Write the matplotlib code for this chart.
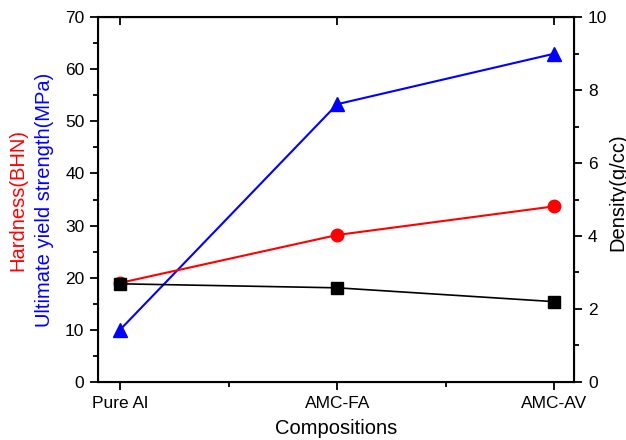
import numpy as np
import matplotlib.pyplot as plt
from matplotlib.ticker import MultipleLocator

plt.rcParams['font.family'] = ['Liberation Sans', 'DejaVu Sans']

# data
compositions = ["Pure Al", "AMC-FA", "AMC-AV"]
strength = [10.0, 53.3, 63.0]      # MPa, blue
hardness = [19.0, 28.2, 33.7]      # BHN, red
density = [2.69, 2.58, 2.2]        # g/cc, black, right axis

x = np.arange(len(compositions))

fig = plt.figure(figsize=(6.26, 4.4), dpi=100)
ax1 = fig.add_axes([0.157, 0.132, 0.76, 0.829])

ax1.plot(x, strength, 'b-', lw=1.5, marker='^', ms=10, zorder=3)
ax1.plot(x, hardness, 'r-', lw=1.5, marker='o', ms=9, zorder=3)
ax1.set_xlim(-0.1, 2.09)
ax1.set_ylim(0, 70)
ax1.set_xticks(x)
ax1.set_xticklabels(compositions)
ax1.xaxis.set_minor_locator(MultipleLocator(0.5))
ax1.yaxis.set_major_locator(MultipleLocator(10))
ax1.yaxis.set_minor_locator(MultipleLocator(5))
ax1.tick_params(axis='both', which='major', direction='out', length=6, width=1.3,
                labelsize=12.5, pad=4)
ax1.tick_params(axis='both', which='minor', direction='out', length=3.5, width=1.3)
ax1.set_xlabel("Compositions", fontsize=14.5, labelpad=6)
for s in ax1.spines.values():
    s.set_linewidth(1.5)

# two-colour left label
ax1.text(-0.168, 0.5, "Hardness(BHN)", color='red', rotation=90, fontsize=14.5,
         transform=ax1.transAxes, ha='center', va='center')
ax1.text(-0.112, 0.5, "Ultimate yield strength(MPa)", color='blue', rotation=90,
         fontsize=14.5, transform=ax1.transAxes, ha='center', va='center')

# top ticks at categories pointing inward
top = ax1.secondary_xaxis('top')
top.set_xticks(x)
top.set_xticklabels([])
top.tick_params(direction='in', length=6, width=1.3)

ax2 = ax1.twinx()
ax2.plot(x, density, 'k-', lw=1.2, marker='s', ms=9, zorder=3)
ax2.set_ylim(0, 10)
ax2.yaxis.set_major_locator(MultipleLocator(2))
ax2.yaxis.set_minor_locator(MultipleLocator(1))
ax2.tick_params(axis='y', which='major', direction='out', length=6, width=1.3,
                labelsize=12.5, pad=4)
ax2.tick_params(axis='y', which='minor', direction='out', length=3.5, width=1.3)
ax2.set_ylabel("Density(g/cc)", fontsize=14.5)
ax2.yaxis.set_label_coords(1.072, 0.52)

fig.savefig("out.png", dpi=100)
